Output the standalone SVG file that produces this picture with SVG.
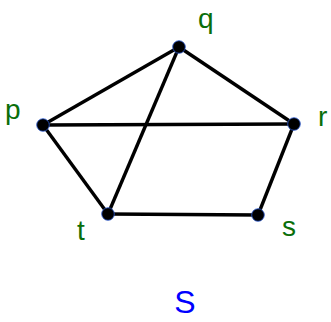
<svg xmlns="http://www.w3.org/2000/svg" width="331" height="322" viewBox="0 0 331 322">
<style>
.e{stroke:#000;stroke-width:3.4;fill:none}
.n{fill:#000;stroke:#2a5bd7;stroke-width:0.8}
.l{font-family:"Liberation Sans",Arial,sans-serif;font-size:28px;fill:#0a6e0a}
.t{font-family:"Liberation Sans",Arial,sans-serif;font-size:32px;fill:#0000ff}
</style>
<rect width="331" height="322" fill="#fff"/>
<g id="edges">
<line class="e" x1="43" y1="125" x2="179" y2="47"/>
<line class="e" x1="179" y1="47" x2="294" y2="124"/>
<line class="e" x1="43" y1="125" x2="294" y2="124"/>
<line class="e" x1="179" y1="47" x2="108" y2="214"/>
<line class="e" x1="43" y1="125" x2="108" y2="214"/>
<line class="e" x1="108" y1="214" x2="258" y2="215"/>
<line class="e" x1="258" y1="215" x2="294" y2="124"/>
</g>
<g id="q"><circle class="n" cx="179" cy="47" r="6.3"/><text class="l" x="198" y="28">q</text></g>
<g id="p"><circle class="n" cx="43" cy="125" r="6.3"/><text class="l" x="5" y="119">p</text></g>
<g id="r"><circle class="n" cx="294" cy="124" r="6.3"/><text class="l" x="318" y="126">r</text></g>
<g id="t"><circle class="n" cx="108" cy="214" r="6.3"/><text class="l" x="77" y="240">t</text></g>
<g id="s"><circle class="n" cx="258" cy="215" r="6.3"/><text class="l" x="282" y="236">s</text></g>
<text id="title" class="t" x="185" y="313" text-anchor="middle">S</text>
</svg>
